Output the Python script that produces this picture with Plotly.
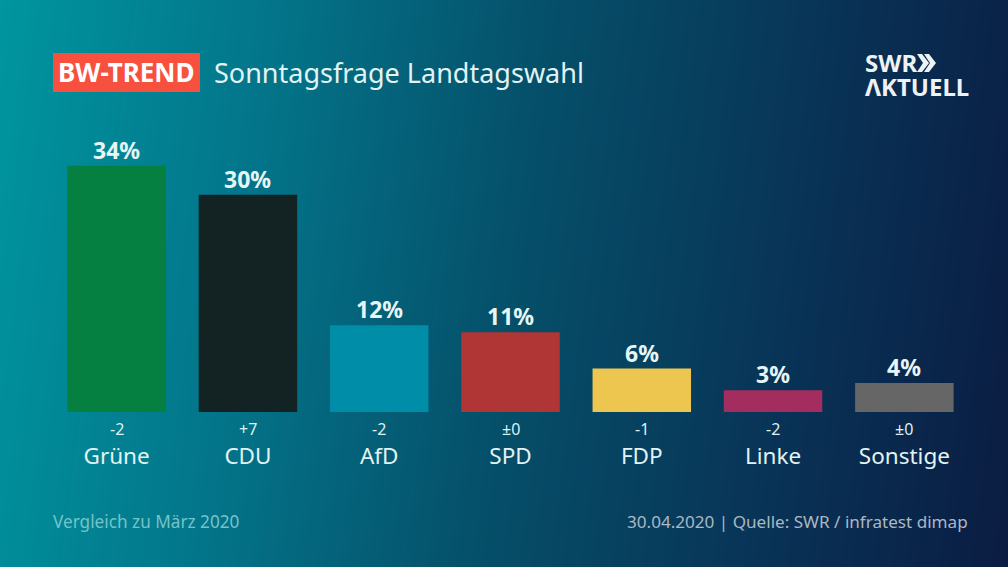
import plotly.graph_objects as go

parties = ["Grüne", "CDU", "AfD", "SPD", "FDP", "Linke", "Sonstige"]
values = [34, 30, 12, 11, 6, 3, 4]
changes = ["-2", "+7", "-2", "±0", "-1", "-2", "±0"]
colors = ["#058040", "#132323", "#008DA8", "#B03636", "#ECC64F", "#A32D5E", "#666666"]
value_labels = [f"{v}%" for v in values]

FONT = "Noto Sans"
W, H = 1008, 567

fig = go.Figure()

# background gradient, drawn on its own full-page axes (first subplot, so underneath)
fig.add_trace(go.Heatmap(
    z=[[0.0, 0.93], [0.07, 1.0]], x=[0, 1], y=[1, 0], xaxis="x", yaxis="y",
    zmin=0, zmax=1, zsmooth="best", showscale=False, hoverinfo="skip",
    colorscale=[[0, "#00959F"], [0.25, "#03758A"], [0.5, "#05506A"], [0.75, "#083558"], [1, "#0B1C42"]],
))

fig.add_trace(go.Bar(
    x=parties, y=values, xaxis="x2", yaxis="y2",
    marker=dict(color=colors, line=dict(width=0)),
    cliponaxis=False, hoverinfo="skip",
))

annotations = [
    dict(x=p, y=0, xref="x2", yref="y2", yshift=-17, text=c, showarrow=False,
         font=dict(family=FONT, size=16, color="#DDF1F2"))
    for p, c in zip(parties, changes)
]
annotations += [
    dict(x=p, y=v, xref="x2", yref="y2", yanchor="bottom", yshift=-2, text=t, showarrow=False,
         font=dict(family=FONT, size=23, color="#E6F6F6", weight="bold"))
    for p, v, t in zip(parties, values, value_labels)
]


def page_text(x, y, text, size, color, anchor="left", bold=False, **kw):
    return dict(x=x / W, y=1 - y / H, xref="paper", yref="paper", text=text, showarrow=False,
                xanchor=anchor, yanchor="middle",
                font=dict(family=FONT, size=size, color=color, weight="bold" if bold else "normal"), **kw)


annotations += [
    page_text(126, 72.5, "BW-TREND", 26, "#FFFFFF", anchor="center", bold=True),
    page_text(212, 72.5, "Sonntagsfrage Landtagswahl", 27, "#E2F3F4"),
    page_text(51, 521, "Vergleich zu März 2020", 17.2, "#72C4C9"),
    page_text(970, 521, "30.04.2020 | Quelle: SWR / infratest dimap", 17.1, "#A9B8C4", anchor="right"),
    page_text(863, 62.5, "SWR", 24, "#EEF2F5", bold=True),
    page_text(863, 86.5, "ΛKTUELL", 24, "#EEF2F5", bold=True),
]


def logo_chevron(dx):
    pts = [(917 + dx, 54), (922 + dx, 54), (929 + dx, 63), (922 + dx, 72), (917 + dx, 72), (923 + dx, 63)]
    path = "M" + " L".join(f"{x / W:.5f},{1 - y / H:.5f}" for x, y in pts) + " Z"
    return dict(type="path", xref="paper", yref="paper", path=path, fillcolor="#EEF2F5",
                line=dict(width=0), layer="above")


fig.update_layout(
    width=W, height=H, margin=dict(l=0, r=0, t=0, b=0), showlegend=False,
    paper_bgcolor="#05506A", plot_bgcolor="rgba(0,0,0,0)",
    bargap=0.25,
    annotations=annotations,
    xaxis2=dict(type="category", categoryorder="array", categoryarray=parties, showgrid=False,
                domain=[51 / W, 970 / W], anchor="y2",
                zeroline=False, showline=False, ticks="", ticklen=0, ticklabelstandoff=28,
                tickfont=dict(family=FONT, size=22.5, color="#E2F3F4")),
    yaxis2=dict(range=[0, 43.1], visible=False, showgrid=False, zeroline=False,
                domain=[(H - 412) / H, (H - 100) / H], anchor="x2"),
    xaxis=dict(domain=[0, 1], range=[0, 1], visible=False, anchor="y"),
    yaxis=dict(domain=[0, 1], range=[0, 1], visible=False, anchor="x"),
    shapes=[dict(type="rect", xref="paper", yref="paper", x0=53 / W, x1=200 / W, y0=1 - 92 / H, y1=1 - 53 / H,
                 fillcolor="#F8503F", line=dict(width=0), layer="above"),
            logo_chevron(0), logo_chevron(7)],
)
fig.write_html("out.html", config=dict(displayModeBar=False),
               post_script="document.body.style.margin='0';document.documentElement.style.overflow='hidden';")
